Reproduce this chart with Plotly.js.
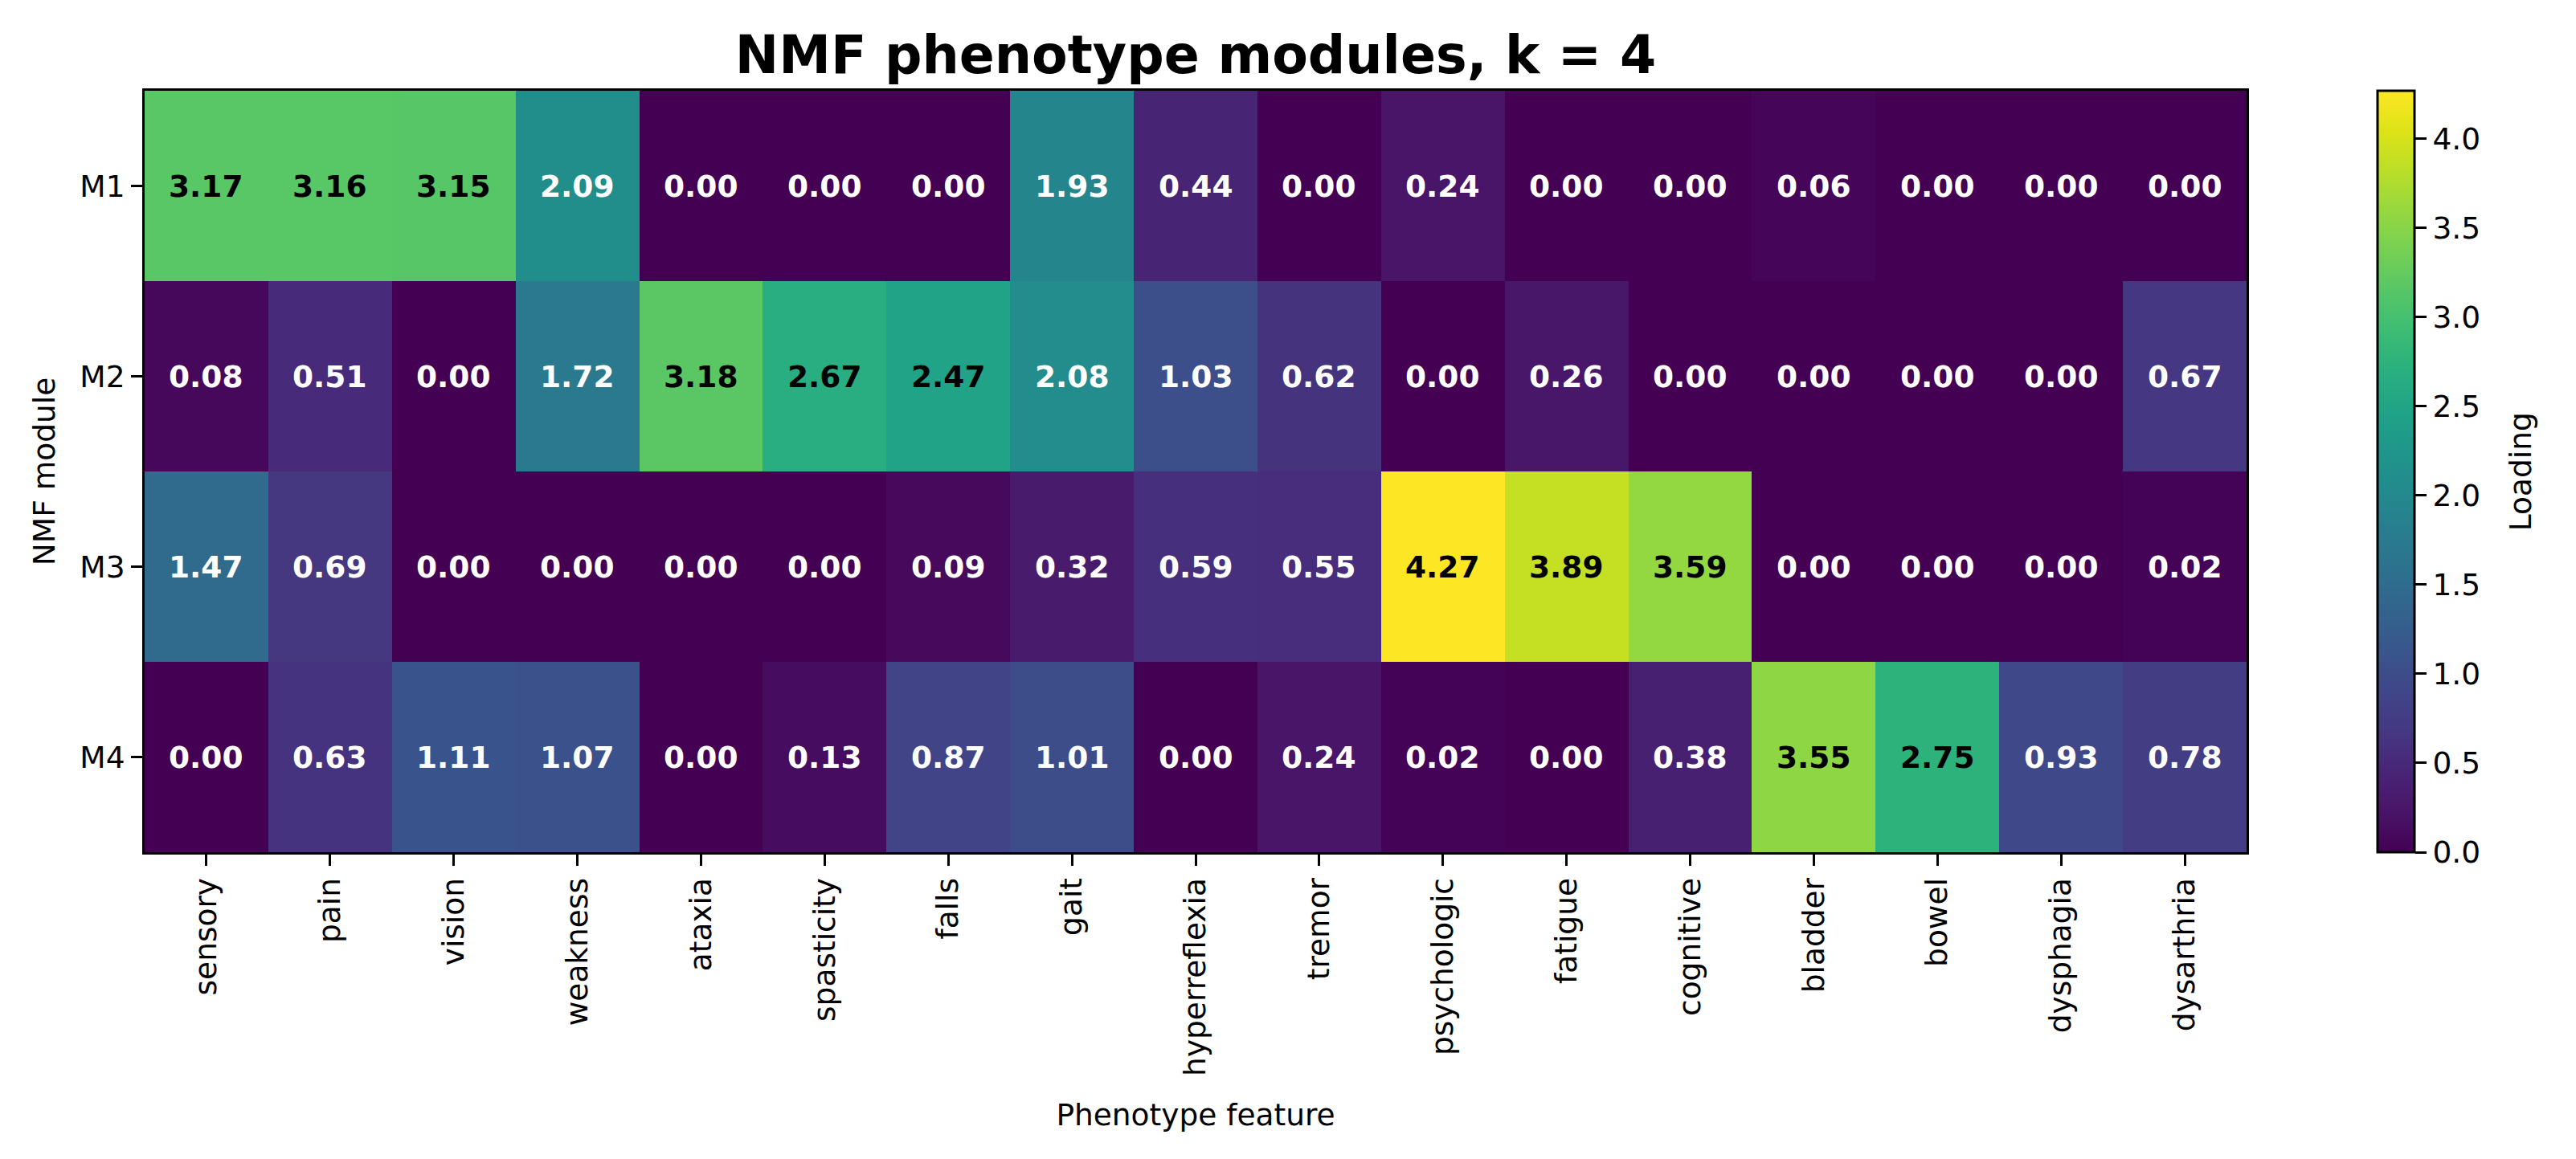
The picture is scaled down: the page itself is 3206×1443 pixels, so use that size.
<!DOCTYPE html>
<html>
<head>
<meta charset="utf-8">
<script src="https://cdn.plot.ly/plotly-3.0.1.min.js"></script>
<style>html,body{margin:0;padding:0;background:#fff;}#chart{width:3206px;height:1443px;}</style>
</head>
<body>
<div id="chart"></div>
<script>
const features = ["sensory","pain","vision","weakness","ataxia","spasticity","falls","gait","hyperreflexia","tremor","psychologic","fatigue","cognitive","bladder","bowel","dysphagia","dysarthria"];
const modules = ["M1","M2","M3","M4"];
const M1 = [3.17,3.16,3.15,2.09,0.00,0.00,0.00,1.93,0.44,0.00,0.24,0.00,0.00,0.06,0.00,0.00,0.00];
const M2 = [0.08,0.51,0.00,1.72,3.18,2.67,2.47,2.08,1.03,0.62,0.00,0.26,0.00,0.00,0.00,0.00,0.67];
const M3 = [1.47,0.69,0.00,0.00,0.00,0.00,0.09,0.32,0.59,0.55,4.27,3.89,3.59,0.00,0.00,0.00,0.02];
const M4 = [0.00,0.63,1.11,1.07,0.00,0.13,0.87,1.01,0.00,0.24,0.02,0.00,0.38,3.55,2.75,0.93,0.78];
const colorbarTicks = [0.0,0.5,1.0,1.5,2.0,2.5,3.0,3.5,4.0];

const z = [M1, M2, M3, M4];
let zmax = 0;
z.forEach(r => r.forEach(v => { if (v > zmax) zmax = v; }));

const viridisHex = ["#440154","#481467","#482576","#453781","#404688","#39558c","#33638d","#2d718e","#287d8e","#238a8d","#1f968b","#20a386","#29af7f","#3dbc74","#56c667","#75d054","#95d840","#bade28","#dde318","#fde725"];
const viridis = viridisHex.map((c, i) => [i / (viridisHex.length - 1), c]);

const FONT = "DejaVu Sans, Liberation Sans, sans-serif";

const annotations = [];
z.forEach((row, ri) => {
  row.forEach((v, ci) => {
    annotations.push({
      x: features[ci], y: modules[ri], xref: "x", yref: "y",
      text: v.toFixed(2), showarrow: false,
      font: {family: FONT, size: 37.5, color: v > zmax / 2 ? "#000000" : "#ffffff", weight: "bold"}
    });
  });
});
annotations.push({
  text: "Loading", xref: "paper", yref: "paper", x: 1.1304, y: 0.5,
  xanchor: "center", yanchor: "middle", textangle: -90, showarrow: false,
  font: {family: FONT, size: 37.5, color: "#000"}
});

const trace = {
  type: "heatmap",
  x: features, y: modules, z: z,
  zmin: 0, zmax: zmax,
  colorscale: viridis,
  xgap: 0, ygap: 0,
  hoverinfo: "skip",
  colorbar: {
    x: 1.0623, xanchor: "left", xref: "paper",
    y: 0.5, yanchor: "middle", len: 1, lenmode: "fraction",
    thickness: 46, thicknessmode: "pixels",
    xpad: 0, ypad: 0,
    outlinewidth: 3, outlinecolor: "#000",
    ticks: "outside", ticklen: 14, tickwidth: 3, tickcolor: "#000",
    tickvals: colorbarTicks, ticktext: colorbarTicks.map(t => t.toFixed(1)),
    tickfont: {family: FONT, size: 37.5, color: "#000"}
  }
};

const layout = {
  width: 3206, height: 1443,
  paper_bgcolor: "#fff", plot_bgcolor: "#fff",
  margin: {l: 180, r: 410, t: 113, b: 382, pad: 0},
  font: {family: FONT, color: "#000"},
  title: {
    text: "<b>NMF phenotype modules, k = 4</b>",
    font: {family: FONT, size: 65, color: "#000"},
    x: 0.5, xanchor: "center", xref: "paper",
    y: 0.953, yanchor: "middle", yref: "container"
  },
  xaxis: {
    type: "category", categoryorder: "array", categoryarray: features,
    showline: true, mirror: true, linecolor: "#000", linewidth: 3,
    ticks: "outside", ticklen: 14, tickwidth: 3, tickcolor: "#000",
    tickangle: -90, tickfont: {family: FONT, size: 37.5, color: "#000"},
    showgrid: false, zeroline: false, automargin: false,
    title: {text: "Phenotype feature", font: {family: FONT, size: 37.5, color: "#000"}, standoff: 36}
  },
  yaxis: {
    type: "category", categoryorder: "array", categoryarray: modules,
    autorange: "reversed",
    showline: true, mirror: true, linecolor: "#000", linewidth: 3,
    ticks: "outside", ticklen: 14, tickwidth: 3, tickcolor: "#000",
    tickfont: {family: FONT, size: 37.5, color: "#000"},
    showgrid: false, zeroline: false, automargin: false,
    title: {text: "NMF module", font: {family: FONT, size: 37.5, color: "#000"}, standoff: 20}
  },
  annotations: annotations,
  showlegend: false
};

Plotly.newPlot("chart", [trace], layout, {displayModeBar: false, staticPlot: true});
</script>
</body>
</html>
